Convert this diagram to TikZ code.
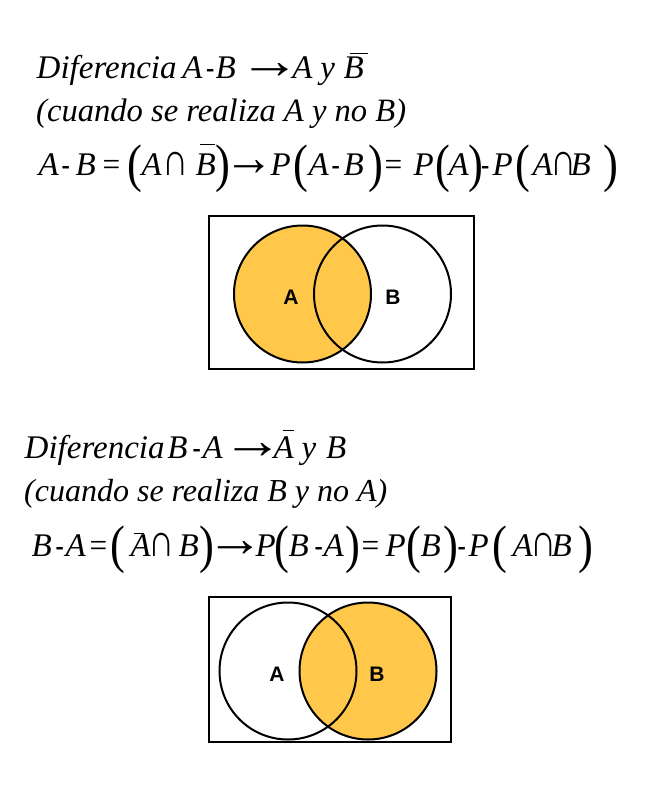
\documentclass[tikz,border=0pt]{standalone}
\usepackage{fontspec}
\setmainfont{Liberation Serif}
\newfontfamily\lblfont{Liberation Sans}
\usepackage{graphicx}
\definecolor{vennfill}{RGB}{255,200,75}
% token placed at absolute x (pt) from the node origin
\newcommand\tk[2]{\makebox[0pt][l]{\hspace*{#1pt}#2}}
\newcommand\mi[1]{\textit{#1}}
\newcommand\lp{\raisebox{-6.5pt}{\scalebox{1.35}[1.6]{(}}}
\newcommand\rp{\raisebox{-6.5pt}{\scalebox{1.35}[1.6]{)}}}
\newcommand\hy{\scalebox{0.75}[1]{-}}
\newcommand\eq{\scalebox{0.95}[1]{=}}
\newcommand\capp{\scalebox{1.1}[1.4]{∩}}
\newcommand\arr[1]{\scalebox{#1}[1.6]{→}}
\newcommand\ovb[3]{\makebox[0pt][l]{\hspace*{#1pt}\rule[#2pt]{#3pt}{1.4pt}}}
\tikzset{
  txt/.style={anchor=base west, inner sep=0pt, font=\fontsize{33}{38}\selectfont},
  venn/.style={circle, draw=black, line width=2pt, minimum size=137pt, inner sep=0pt},
  frame/.style={draw=black, line width=2pt},
  lbl/.style={font=\lblfont\bfseries\fontsize{21}{24}\selectfont, inner sep=0pt}
}
\begin{document}
\begin{tikzpicture}[x=1pt,y=-1pt]
\useasboundingbox (0,0) rectangle (656,792);
% ---- block 1 ----
\node[txt] (t1) at (0,78) {\tk{36}{\mi{Diferencia}}\tk{181.7}{\mi{A}}\tk{205.5}{\hy}\tk{215}{\mi{B}}\tk{238.9}{\arr{1.85}}\tk{291.7}{\mi{A}}\tk{319.6}{\mi{y}}\tk{343}{\mi{B}}\ovb{349}{24}{18}};
\node[txt, font=\fontsize{32.6}{38}\selectfont] (t2) at (36,121) {\mi{(cuando se realiza A y no B)}};
\node[txt] (t3) at (0,175) {\tk{38}{\mi{A}}\tk{61}{\hy}\tk{75}{\mi{B}}\tk{102}{\eq}\tk{126.5}{\lp}\tk{141}{\mi{A}}\tk{161.5}{\capp}\tk{195}{\mi{B}}\ovb{199.7}{30}{15}\tk{214.7}{\rp}\tk{224}{\arr{1.5}}\tk{270}{\mi{P}}\tk{293}{\lp}\tk{308}{\mi{A}}\tk{331}{\hy}\tk{343}{\mi{B}}\tk{368}{\rp}\tk{384}{\eq}\tk{413}{\mi{P}}\tk{435}{\lp}\tk{448}{\mi{A}}\tk{468}{\rp}\tk{480.5}{\hy}\tk{492}{\mi{P}}\tk{515}{\lp}\tk{532}{\mi{A}}\tk{549.5}{\capp}\tk{570}{\mi{B}}\tk{603}{\rp}};
\draw[frame] (209,216) rectangle (474,369);
\fill[vennfill] (302.5,294) circle (68.5);
\node[venn] (a1) at (302.5,294) {};
\node[venn] (b1) at (382.5,294) {};
\node[lbl] (la1) at (291,297) {A};
\node[lbl] (lb1) at (393,297) {B};
% ---- block 2 ----
\node[txt] (s1) at (0,458) {\tk{24}{\mi{Diferencia}}\tk{166.7}{\mi{B}}\tk{192}{\hy}\tk{202}{\mi{A}}\tk{221.9}{\arr{1.85}}\tk{273}{\mi{A}}\ovb{282}{27}{11}\tk{301}{\mi{y}}\tk{325.5}{\mi{B}}};
\node[txt, font=\fontsize{32}{38}\selectfont] (s2) at (24,501.7) {\mi{(cuando se realiza B y no A)}};
\node[txt] (s3) at (0,556) {\tk{31}{\mi{B}}\tk{55}{\hy}\tk{65}{\mi{A}}\tk{89}{\eq}\tk{109.5}{\lp}\tk{130}{\mi{A}}\ovb{133}{22}{10}\tk{148}{\capp}\tk{178}{\mi{B}}\tk{199}{\rp}\tk{205.5}{\arr{1.75}}\tk{255}{\mi{P}}\tk{273.5}{\lp}\tk{288}{\mi{B}}\tk{314}{\hy}\tk{323}{\mi{A}}\tk{345}{\rp}\tk{361}{\eq}\tk{385}{\mi{P}}\tk{405.5}{\lp}\tk{420}{\mi{B}}\tk{443}{\rp}\tk{457}{\hy}\tk{468}{\mi{P}}\tk{491.5}{\lp}\tk{512}{\mi{A}}\tk{529.5}{\capp}\tk{551}{\mi{B}}\tk{578}{\rp}};
\draw[frame] (209,597) rectangle (451,742);
\fill[vennfill] (368,671) circle (68.5);
\node[venn] (a2) at (288,671) {};
\node[venn] (b2) at (368,671) {};
\node[lbl] (la2) at (277,674) {A};
\node[lbl] (lb2) at (377,674) {B};
\end{tikzpicture}
\end{document}
